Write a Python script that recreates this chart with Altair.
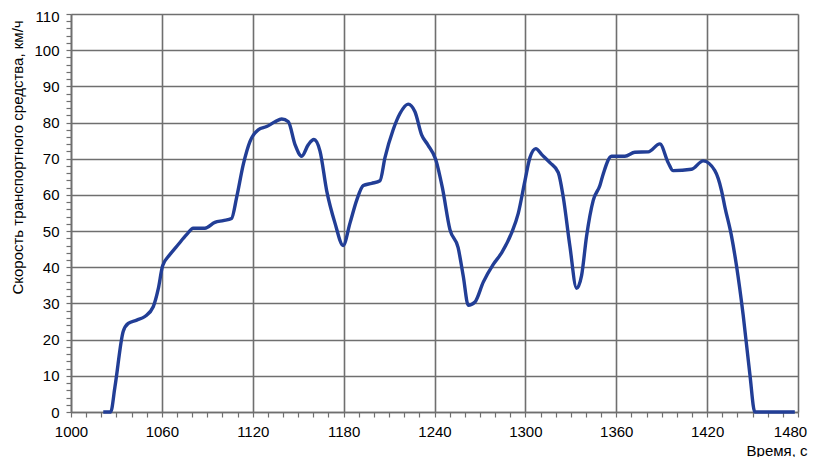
import altair as alt
import pandas as pd

time_s = [1021.3, 1026.2, 1029.0, 1034.5, 1037.8, 1043.4, 1048.8, 1054.3, 1057.6, 1060.5,
          1065.3, 1070.8, 1076.3, 1080.7, 1088.4, 1095.0, 1100.5, 1106.0, 1109.4, 1113.8,
          1118.2, 1123.6, 1129.2, 1134.7, 1139.1, 1143.5, 1147.9, 1152.3, 1156.7, 1160.4,
          1164.4, 1168.8, 1174.3, 1179.7, 1184.2, 1188.6, 1193.0, 1198.5, 1204.0, 1207.3,
          1212.7, 1217.2, 1222.6, 1227.1, 1231.5, 1235.5, 1240.8, 1245.2, 1250.2, 1255.6,
          1259.0, 1262.3, 1266.7, 1272.2, 1278.8, 1284.3, 1290.9, 1295.3, 1299.7, 1303.0,
          1306.9, 1310.7, 1316.2, 1321.7, 1325.0, 1329.4, 1333.8, 1337.1, 1340.4, 1344.8,
          1349.2, 1351.4, 1356.9, 1365.7, 1372.3, 1381.1, 1388.8, 1394.3, 1397.6, 1409.7,
          1417.4, 1425.1, 1429.5, 1431.7, 1436.1, 1439.4, 1443.8, 1448.2, 1451.5, 1477.9]
speed_kmh = [0.0, 0.0, 6.9, 22.3, 24.5, 25.4, 26.4, 29.1, 34.0, 40.4,
             43.5, 46.3, 49.0, 50.8, 50.8, 52.4, 52.9, 53.5, 59.4, 68.5,
             74.8, 78.0, 78.9, 80.2, 81.0, 80.2, 73.9, 70.7, 73.9, 75.3,
             72.1, 61.2, 52.2, 46.0, 52.2, 58.5, 62.6, 63.2, 63.9, 70.3,
             78.0, 82.5, 85.1, 83.0, 76.6, 73.9, 69.8, 62.0, 50.4, 45.4,
             37.5, 29.5, 30.4, 35.9, 40.8, 44.0, 49.5, 54.9, 63.9, 70.3,
             72.8, 71.2, 68.9, 66.2, 59.4, 45.8, 34.2, 37.7, 48.6, 58.5,
             62.6, 65.8, 70.7, 70.7, 71.8, 71.9, 74.1, 68.9, 66.7, 67.1,
             69.4, 66.7, 61.2, 56.7, 48.6, 40.4, 26.8, 10.5, 0.0, 0.0]

x_ticks = list(range(1000, 1481, 10))
y_ticks = list(range(0, 111, 2))

df = pd.DataFrame({"t": time_s, "v": speed_kmh})

GRID = "#6f6f6f"
FONT = "Liberation Sans"

x_axis = alt.Axis(
    values=x_ticks,
    format="d",
    labelExpr="(datum.value - 1000) % 60 === 0 ? datum.label : ''",
    labelOverlap=False,
    labelFlush=False,
    labelOffset={"condition": {"test": "datum.value === 1480", "value": -8}, "value": 0},
    labelFontSize=15,
    labelFont=FONT,
    labelColor="#000000",
    labelPadding=7,
    tickSize=5,
    tickColor=GRID,
    tickWidth=1.2,
    grid=True,
    gridColor=GRID,
    gridWidth=1.6,
    gridOpacity={"condition": {"test": "(datum.value - 1000) % 60 === 0", "value": 1}, "value": 0},
    domainColor=GRID,
    domainWidth=1.6,
    title="Время, с",
    titleFont=FONT,
    titleFontSize=15,
    titleFontWeight="normal",
    titleColor="#000000",
    titleAlign="right",
    titleBaseline="alphabetic",
    titleX=736,
    titleY=43,
)

y_axis = alt.Axis(
    values=y_ticks,
    format="d",
    labelExpr="datum.value % 10 === 0 ? datum.label : ''",
    labelOverlap=False,
    labelFlush=False,
    labelOffset={"condition": {"test": "datum.value === 110", "value": 2}, "value": 0},
    labelFontSize=15,
    labelFont=FONT,
    labelColor="#000000",
    labelPadding=7,
    tickSize=5,
    tickColor=GRID,
    tickWidth=1.2,
    grid=True,
    gridColor=GRID,
    gridWidth=1.6,
    gridOpacity={"condition": {"test": "datum.value % 10 === 0", "value": 1}, "value": 0},
    domainColor=GRID,
    domainWidth=1.6,
    title="Скорость транспортного средства, км/ч",
    titleFont=FONT,
    titleFontSize=15,
    titleFontWeight="normal",
    titleColor="#000000",
    titleAngle=270,
    titleAlign="center",
    titleBaseline="middle",
    titleX=-54,
    titleY=143,
)

chart = alt.Chart(df).mark_line(
    color="#223e96", strokeWidth=3.4, interpolate="monotone"
).encode(
    x=alt.X("t:Q", scale=alt.Scale(domain=[1000, 1480], nice=False, zero=False), axis=x_axis),
    y=alt.Y("v:Q", scale=alt.Scale(domain=[0, 110], nice=False), axis=y_axis),
).properties(
    width=727,
    height=398,
    autosize=alt.AutoSizeParams(type="none"),
    padding={"left": 63, "top": 6, "right": 10, "bottom": 45},
    background="white",
).configure_view(strokeWidth=0)

chart.save("out.html", embed_options={"renderer": "svg", "actions": False})
